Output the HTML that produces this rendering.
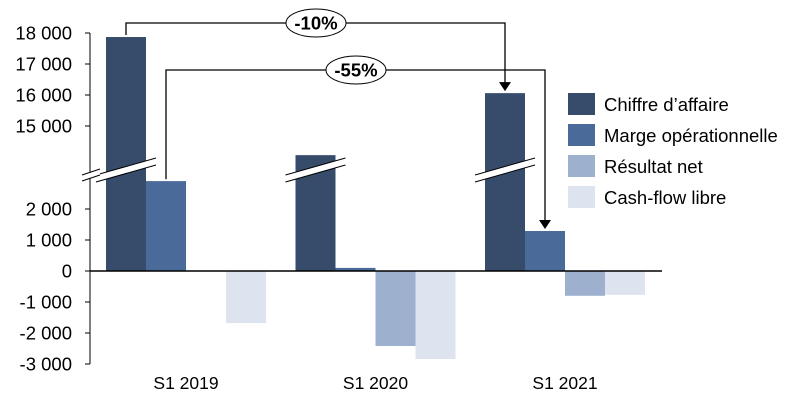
<!DOCTYPE html>
<html><head><meta charset="utf-8"><style>
body{margin:0;background:#fff}
svg{font-family:"Liberation Sans",sans-serif;display:block}
</style></head><body>
<svg id="c" width="796" height="410"></svg>
<script>
const categories=["S1 2019","S1 2020","S1 2021"];
const seriesNames=["Chiffre d’affaire","Marge opérationnelle","Résultat net","Cash-flow libre"];
const chiffre=[17870,14060,16060];
const marge=[2900,100,1290];
const resultat=[0,-2420,-800];
const cashflow=[-1680,-2840,-770];
const upperTicks=[18000,17000,16000,15000];
const lowerTicks=[2000,1000,0,-1000,-2000,-3000];
const tickLabels={18000:"18 000",17000:"17 000",16000:"16 000",15000:"15 000",2000:"2 000",1000:"1 000",0:"0","-1000":"-1 000","-2000":"-2 000","-3000":"-3 000"};
const annotations=["-10%","-55%"];
const colors=["#374c6b","#4a6a9a","#9db0cd","#dde4ef"];
const NS="http://www.w3.org/2000/svg";
const svg=document.getElementById("c");
function mk(t,a,p){const e=document.createElementNS(NS,t);for(const k in a)e.setAttribute(k,a[k]);(p||svg).appendChild(e);return e;}
function y(v){return v>3000?33+(18000-v)*0.031:271-v*0.031;}
function gx(i){return 186+i*189.5;}
const bw=40;
const all=[chiffre,marge,resultat,cashflow];
all.forEach((s,si)=>{s.forEach((v,i)=>{
 const x=gx(i)-80+si*bw, y0=y(0), y1=y(v);
 const r=mk("rect",{x:x,y:Math.min(y0,y1),width:bw,height:Math.max(Math.abs(y1-y0),0.01),fill:colors[si]});
 
 
 if(v>3000){
  const g=mk("g",{});
  
  
  mk("polygon",{points:`${x-10},${175} ${x+bw+10},${158} ${x+bw+10},${165} ${x-10},${182}`,fill:"#fff"},g);
  mk("line",{x1:x-10,y1:175,x2:x+bw+10,y2:158,stroke:"#000","stroke-width":1},g);
  mk("line",{x1:x-10,y1:182,x2:x+bw+10,y2:165,stroke:"#000","stroke-width":1},g);
 }
});});
const ax=mk("g",{});


mk("line",{x1:90,y1:33,x2:90,y2:364,stroke:"#000"},ax);
mk("polygon",{points:"82,175 100,169 100,175 82,181",fill:"#fff"},ax);
mk("line",{x1:82,y1:175,x2:100,y2:169,stroke:"#000"},ax);
mk("line",{x1:82,y1:181,x2:100,y2:175,stroke:"#000"},ax);
upperTicks.concat(lowerTicks).forEach(v=>{
 const yy=y(v);
 mk("line",{x1:85,y1:yy,x2:90,y2:yy,stroke:"#000"},ax);
 const t=mk("text",{x:72,y:yy+6.5,"text-anchor":"end","font-size":18.5,fill:"#000"},ax);
 t.textContent=tickLabels[v];
 
 
});
const zl=mk("line",{x1:90,y1:y(0),x2:662,y2:y(0),stroke:"#000","stroke-width":1.5});


categories.forEach((c,i)=>{
 const t=mk("text",{x:gx(i),y:389,"text-anchor":"middle","font-size":17.5});
 t.textContent=c;
 
 
});
function ann(x1,ytop1,x2,ytop2,ly,label,cx){
 const g=mk("g",{});
 
 
 mk("polyline",{points:`${x1},${ytop1} ${x1},${ly} ${x2},${ly} ${x2},${ytop2-9}`,fill:"none",stroke:"#000","stroke-width":1.3},g);
 mk("polygon",{points:`${x2-6},${ytop2-11} ${x2+6},${ytop2-11} ${x2},${ytop2-2}`,fill:"#000"},g);
 mk("ellipse",{cx:cx,cy:ly,rx:30,ry:14,fill:"#fff",stroke:"#000","stroke-width":1},g);
 const t=mk("text",{x:cx,y:ly+6.5,"text-anchor":"middle","font-size":18.5,"font-weight":"bold"},g);
 t.textContent=label;
}
ann(gx(0)-60,y(chiffre[0])-2,gx(2)-60,y(chiffre[2]),23,annotations[0],316);
ann(gx(0)-20,y(marge[0])-2,gx(2)-20,y(marge[2]),70,annotations[1],356);
seriesNames.forEach((n,i)=>{
 const g=mk("g",{});
 
 
 const yy=93+i*31;
 mk("rect",{x:568,y:yy,width:27,height:22,fill:colors[i]},g);
 const t=mk("text",{x:604,y:yy+18,"font-size":18.5},g);
 t.textContent=n;
});
</script>
</body></html>
